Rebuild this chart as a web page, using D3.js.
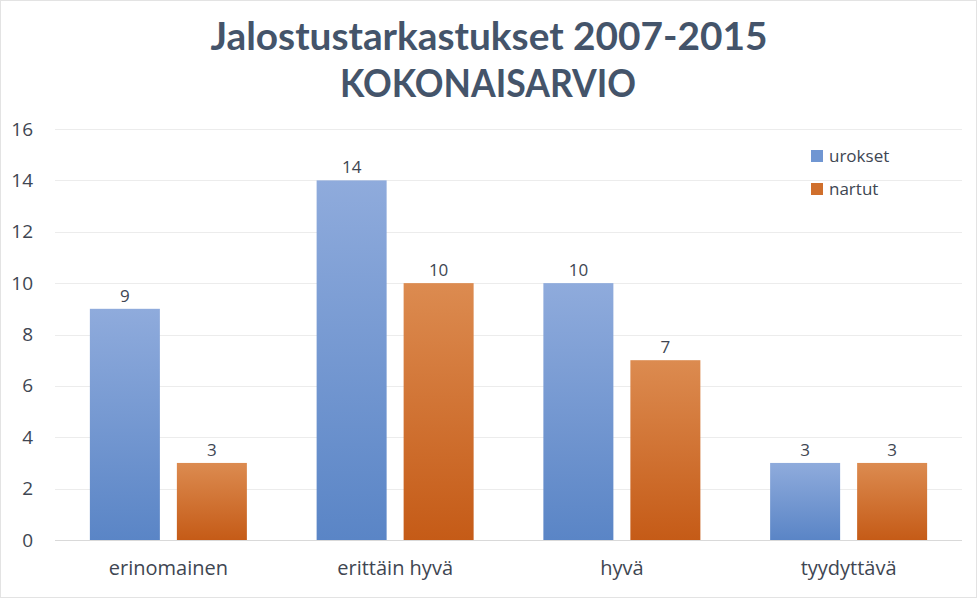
<!DOCTYPE html>
<html><head><meta charset="utf-8">
<script src="https://cdn.jsdelivr.net/npm/d3@7"></script>
<style>body{margin:0;background:#fff}svg{display:block}</style>
</head><body>
<script>
const categories = ["erinomainen", "erittäin hyvä", "hyvä", "tyydyttävä"];
const seriesNames = ["urokset", "nartut"];
const urokset = [9, 14, 10, 3];
const nartut = [3, 10, 7, 3];
const yTicks = [0, 2, 4, 6, 8, 10, 12, 14, 16];
const titleLines = ["Jalostustarkastukset 2007-2015", "KOKONAISARVIO"];

const W = 977, H = 600;
const FONT = "'Open Sans', Lato, sans-serif";
const TXT = "#404652";
const svg = d3.select("body").append("svg").attr("width", W).attr("height", H);
const defs = svg.append("defs");
const grads = [["gBlue", "#8fabdc", "#5a85c6"], ["gOrange", "#dc8b50", "#c55b17"]];
grads.forEach(([id, c1, c2]) => {
  const g = defs.append("linearGradient").attr("id", id).attr("x1", 0).attr("y1", 0).attr("x2", 0).attr("y2", 1);
  g.append("stop").attr("offset", "0%").attr("stop-color", c1);
  g.append("stop").attr("offset", "100%").attr("stop-color", c2);
});

svg.append("rect").attr("x", 0.5).attr("y", 0.5).attr("width", W - 1).attr("height", H - 3)
  .attr("fill", "#fff").attr("stroke", "#e3e3e3");

const pLeft = 55, pRight = 962, pTop = 129, pBottom = 540;
const x0 = d3.scaleBand().domain(categories).range([pLeft, pRight]).paddingInner(0).paddingOuter(0);
const y = d3.scaleLinear().domain([0, 16]).range([pBottom, pTop]);

// grid
svg.append("g").selectAll("line").data(yTicks).join("line")
  .attr("x1", pLeft).attr("x2", pRight)
  .attr("y1", d => Math.round(y(d)) + 0.5).attr("y2", d => Math.round(y(d)) + 0.5)
  .attr("stroke", d => d === 0 ? "#d9d9d9" : "#ececec").attr("stroke-width", 1);

// y axis labels
const yAxis = svg.append("g").attr("transform", `translate(${pLeft},0)`)
  .call(d3.axisLeft(y).tickValues(yTicks).tickSize(0).tickPadding(22));
yAxis.select(".domain").remove();
yAxis.selectAll("text").attr("font-family", FONT).attr("font-size", 19).attr("fill", TXT);

// x axis labels
const xAxis = svg.append("g").attr("transform", `translate(0,${pBottom})`)
  .call(d3.axisBottom(x0).tickSize(0).tickPadding(21));
xAxis.select(".domain").remove();
xAxis.selectAll("text").attr("font-family", FONT).attr("font-size", 20).attr("fill", TXT);

// bars
const barW = 70, gap = 17;
const data = categories.map((c, i) => ({ c, vals: [urokset[i], nartut[i]] }));
const gCat = svg.append("g").selectAll("g").data(data).join("g")
  .attr("transform", d => `translate(${x0(d.c) + x0.bandwidth() / 2},0)`);
const x1 = d3.scaleBand().domain([0, 1]).range([-(barW + gap / 2), barW + gap / 2]).paddingInner(gap / (barW + gap));
gCat.selectAll("rect").data(d => d.vals).join("rect")
  .attr("x", (v, i) => x1(i)).attr("width", x1.bandwidth())
  .attr("y", v => y(v)).attr("height", v => y(0) - y(v))
  .attr("fill", (v, i) => i === 0 ? "url(#gBlue)" : "url(#gOrange)");
gCat.selectAll("text").data(d => d.vals).join("text")
  .attr("x", (v, i) => x1(i) + x1.bandwidth() / 2).attr("y", v => y(v) - 7)
  .attr("text-anchor", "middle").attr("font-family", FONT)
  .attr("font-size", 17).attr("fill", TXT).text(v => v);

// legend
const leg = svg.append("g");
const legCols = ["#7096d2", "#d06f2c"];
seriesNames.forEach((s, i) => {
  const yy = 156 + i * 33;
  leg.append("rect").attr("x", 811).attr("y", yy - 6).attr("width", 12).attr("height", 12).attr("fill", legCols[i]);
  leg.append("text").attr("x", 829).attr("y", yy).attr("dy", "0.35em")
    .attr("font-family", FONT).attr("font-size", 17).attr("fill", TXT).text(s);
});

// title
const tl = [[489, 50, 557], [488, 97, 296]];
titleLines.forEach((t, i) => {
  svg.append("text").attr("x", tl[i][0]).attr("y", tl[i][1]).attr("text-anchor", "middle")
    .attr("font-family", "Lato, 'Open Sans', sans-serif").attr("font-weight", "bold")
    .attr("font-size", 39).attr("fill", "#44546a")
    .attr("textLength", tl[i][2]).attr("lengthAdjust", "spacingAndGlyphs").text(t);
});
</script>
</body></html>
